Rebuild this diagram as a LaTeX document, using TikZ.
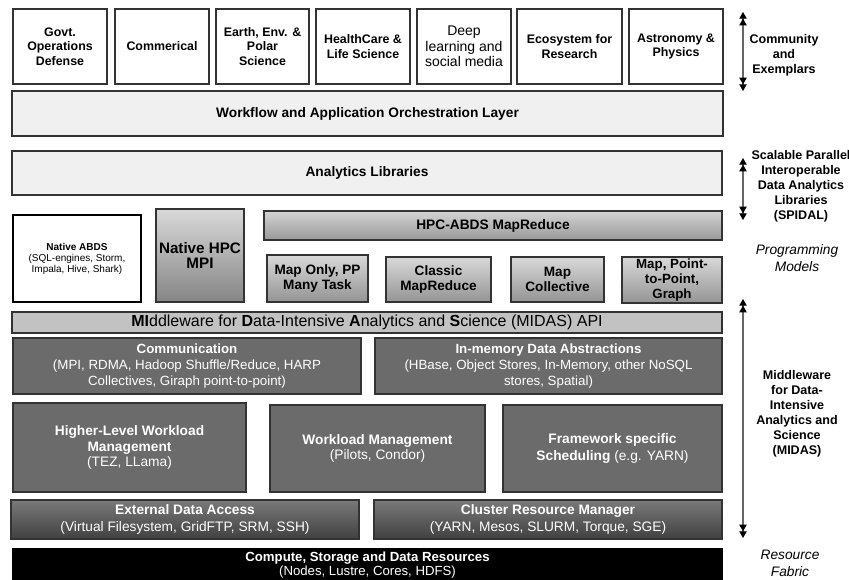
\documentclass[tikz,border=0pt]{standalone}
\usepackage{fontspec}
\setmainfont{Liberation Sans}
\usetikzlibrary{arrows.meta}
\newcommand{\fsz}[2]{\fontsize{#1}{#2}\selectfont}
\newcommand{\bx}[7]{\node[#1, minimum width={(#5-#3)*0.75pt}, minimum height={(#6-#4)*0.75pt}, anchor=center] (#2) at ({(#3+#5)/2},{(#4+#6)/2}) {#7};}
\definecolor{lightfill}{HTML}{F0F0F0}
\definecolor{midfill}{HTML}{C2C2C2}
\definecolor{darkfill}{HTML}{6B6B6B}
\definecolor{edgegray}{HTML}{333333}
\begin{document}
\begin{tikzpicture}[x=0.75pt,y=-0.75pt,
  base/.style={draw=edgegray, line width=0.8pt, inner sep=0pt, align=center},
  topbox/.style={base, fill=white, font=\bfseries\fsz{9.3}{10.9}},
  lightbox/.style={base, fill=lightfill, font=\bfseries\fsz{10.3}{12}},
  gradbox/.style={base, top color=black!15, bottom color=black!42, font=\bfseries\fsz{10.2}{11}},
  darkbox/.style={base, fill=darkfill, text=white, font=\fsz{10}{12}},
  extbox/.style={base, top color=darkfill!90!white, bottom color=darkfill!60!black, text=white, font=\fsz{10.3}{12.5}},
  sidetxt/.style={font=\bfseries\fsz{9.4}{11.2}, align=center},
  sideit/.style={font=\itshape\fsz{10.3}{12.8}, align=center},
  updown/.style={line width=0.8pt, draw=black!60, {Triangle[width=5.5pt,length=5pt,color=black]Triangle[width=5.5pt,length=5pt,color=black]}-{Triangle[width=5.5pt,length=5pt,color=black]Triangle[width=5.5pt,length=5pt,color=black]}}
]
\useasboundingbox (0,0) rectangle (849,579);

% Community boxes
\bx{topbox}{c1}{13}{9}{107}{84}{Govt.\\Operations\\Defense}
\bx{topbox}{c2}{115}{9}{209}{84}{Commerical}
\bx{topbox}{c3}{216}{9}{309}{84}{Earth, Env. \&\\Polar\\Science}
\bx{topbox}{c4}{316}{9}{410}{84}{HealthCare \&\\Life Science}
\bx{topbox, font=\mdseries\fsz{10.5}{11.6}}{c5}{417}{9}{511}{84}{Deep\\learning and\\social media}
\bx{topbox}{c6}{517}{9}{622}{84}{Ecosystem for\\Research}
\bx{topbox}{c7}{629}{9}{723}{84}{Astronomy \&\\Physics}

\bx{lightbox}{wf}{12}{91}{723}{136}{Workflow and Application Orchestration Layer}
\bx{lightbox}{al}{12}{151}{722}{195}{Analytics Libraries}

% Programming models
\bx{base, fill=white, draw=black, font=\fsz{7.5}{8.3}}{abds}{13}{215}{141}{302}{\textbf{Native ABDS}\\(SQL-engines, Storm,\\Impala, Hive, Shark)}
\bx{base, top color=black!15, bottom color=black!48, font=\bfseries\fsz{11.4}{11.6}}{mpi}{156}{209}{244}{302}{Native HPC\\MPI}
\bx{base, top color=black!17, bottom color=black!40, font=\bfseries\fsz{10.3}{12}}{hmr}{264}{211}{722}{240}{HPC-ABDS MapReduce}
\bx{gradbox}{m1}{267}{255}{368}{302}{Map Only, PP\\Many Task}
\bx{gradbox}{m2}{386}{257}{491}{302}{Classic\\MapReduce}
\bx{gradbox}{m3}{511}{257}{604}{302}{Map\\Collective}
\bx{gradbox, font=\bfseries\fsz{10}{11.2}}{m4}{622}{257}{722}{303}{Map, Point-\\to-Point,\\Graph}

\bx{base, fill=midfill, font=\fsz{12}{13}}{api}{12}{312}{722}{333}{\textbf{MI}ddleware for \textbf{D}ata-Intensive \textbf{A}nalytics and \textbf{S}cience (MIDAS) API}

% Middleware
\bx{darkbox}{comm}{13}{338}{361}{394}{\textbf{Communication}\\(MPI, RDMA, Hadoop Shuffle/Reduce, HARP\\Collectives, Giraph point-to-point)}
\bx{darkbox}{imem}{375}{338}{722}{394}{\textbf{In-memory Data Abstractions}\\(HBase, Object Stores, In-Memory, other NoSQL\\stores, Spatial)}
\bx{darkbox, font=\fsz{10.3}{11.6}}{hlw}{13}{403}{246}{492}{\textbf{Higher-Level Workload}\\\textbf{Management}\\(TEZ, LLama)}
\bx{darkbox, font=\fsz{10.3}{11.6}}{wm}{270}{405}{485}{492}{\textbf{Workload Management}\\(Pilots, Condor)}
\bx{darkbox, font=\fsz{10.3}{12.5}}{fs}{503}{405}{722}{492}{\textbf{Framework specific}\\\textbf{Scheduling} (e.g. YARN)}
\bx{extbox}{eda}{11}{500}{359}{539}{\textbf{External Data Access}\\(Virtual Filesystem, GridFTP, SRM, SSH)}
\bx{extbox}{crm}{374}{500}{722}{539}{\textbf{Cluster Resource Manager}\\(YARN, Mesos, SLURM, Torque, SGE)}
\bx{base, fill=black, draw=black, text=white, font=\fsz{9.9}{10.8}}{csd}{13}{549}{722}{581}{\textbf{Compute, Storage and Data Resources}\\(Nodes, Lustre, Cores, HDFS)}

% Side arrows
\coordinate (a1t) at (743,12);
\coordinate (a1b) at (743,91);
\coordinate (a2t) at (743,158);
\coordinate (a2b) at (743,220);
\coordinate (a3t) at (743,299);
\coordinate (a3b) at (743,538);
\draw[updown] (a1t) -- (a1b);
\draw[updown] (a2t) -- (a2b);
\draw[updown] (a3t) -- (a3b);

% Side labels
\node[sidetxt] (lcom) at (784,55) {Community\\and\\Exemplars};
\node[sidetxt] (lspi) at (801,186) {Scalable Parallel\\Interoperable\\Data Analytics\\Libraries\\(SPIDAL)};
\node[sideit] (lpm) at (797,258) {Programming\\Models};
\node[sidetxt] (lmid) at (797,414) {Middleware\\for Data-\\Intensive\\Analytics and\\Science\\(MIDAS)};
\node[sideit] (lrf) at (790,563) {Resource\\Fabric};
\end{tikzpicture}
\end{document}
